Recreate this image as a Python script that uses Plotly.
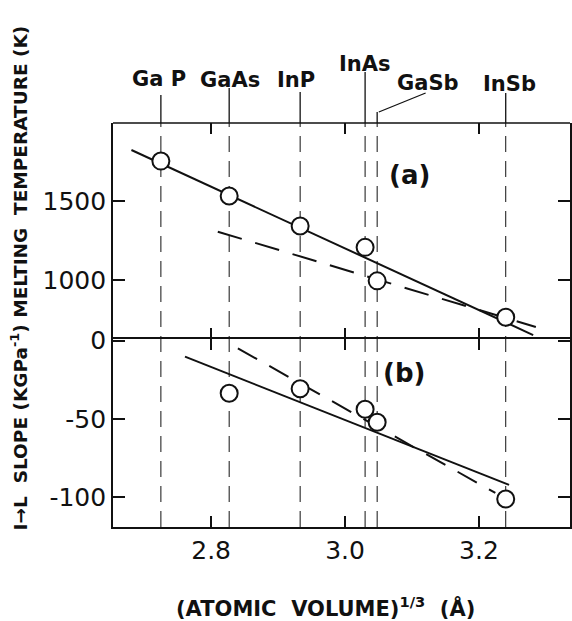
import plotly.graph_objects as go

# ---------------- data ----------------
compounds = ["GaP", "GaAs", "InP", "InAs", "GaSb", "InSb"]
compound_labels = ["Ga P", "GaAs", "InP", "InAs", "GaSb", "InSb"]
atomic_volume_cuberoot = [2.725, 2.827, 2.933, 3.030, 3.048, 3.240]

melting_temp = [1753, 1532, 1342, 1207, 995, 765]

slope_x = [2.827, 2.933, 3.030, 3.048, 3.240]
slope_vals = [-33.6, -30.7, -43.8, -52.1, -101.0]

fit_a_solid_x = [2.681, 3.281]
fit_a_solid_y = [1823, 652]
fit_a_dash_x = [2.810, 3.285]
fit_a_dash_y = [1306, 703]
fit_b_solid_x = [2.761, 3.245]
fit_b_solid_y = [-10.3, -92.0]
fit_b_dash_x = [2.840, 3.2245]
fit_b_dash_y = [-5.0, -97.1]

x_ticks = [2.8, 3.0, 3.2]
x_ticklabels = ["2.8", "3.0", "3.2"]
ya_ticks = [1000, 1500]
ya_ticklabels = ["1000", "1500"]
yb_ticks = [0, -50, -100]
yb_ticklabels = ["0", "-50", "-100"]

# ---------------- layout helpers ----------------
W, H = 572, 621
L, T, B_PX = 113, 123, 527
MID = 339
PH = B_PX - T


def py(ypx):
    return (B_PX - ypx) / PH


def px(xpx):
    return (xpx - L) / (W - L)


FONT = "DejaVu Sans"
BLACK = "#111111"

fig = go.Figure()

# fit lines
fig.add_trace(go.Scatter(x=fit_a_solid_x, y=fit_a_solid_y, mode="lines",
                         line=dict(color=BLACK, width=2), xaxis="x", yaxis="y",
                         showlegend=False, hoverinfo="skip"))
fig.add_trace(go.Scatter(x=fit_a_dash_x, y=fit_a_dash_y, mode="lines",
                         line=dict(color=BLACK, width=2, dash="25px,14px"),
                         xaxis="x", yaxis="y", showlegend=False, hoverinfo="skip"))
fig.add_trace(go.Scatter(x=fit_b_solid_x, y=fit_b_solid_y, mode="lines",
                         line=dict(color=BLACK, width=2), xaxis="x2", yaxis="y2",
                         showlegend=False, hoverinfo="skip"))
fig.add_trace(go.Scatter(x=fit_b_dash_x, y=fit_b_dash_y, mode="lines",
                         line=dict(color=BLACK, width=2, dash="22px,14px"),
                         xaxis="x2", yaxis="y2", showlegend=False, hoverinfo="skip"))

# data points
marker = dict(symbol="circle", size=17, color="white",
              line=dict(color=BLACK, width=2))
fig.add_trace(go.Scatter(x=atomic_volume_cuberoot, y=melting_temp, mode="markers",
                         marker=marker, xaxis="x", yaxis="y", showlegend=False))
fig.add_trace(go.Scatter(x=slope_x, y=slope_vals, mode="markers",
                         marker=marker, xaxis="x2", yaxis="y2", showlegend=False))

shapes = []
# top border of the frame
shapes.append(dict(type="line", xref="paper", yref="paper", x0=0, x1=1, y0=1, y1=1,
                   line=dict(color=BLACK, width=1.6)))
# vertical dashed compound lines through the frame
for xv in atomic_volume_cuberoot:
    shapes.append(dict(type="line", xref="x", yref="paper", x0=xv, x1=xv,
                       y0=0, y1=1, layer="below",
                       line=dict(color=BLACK, width=1, dash="16px,9px")))

# leader lines above the frame (top pixel of each leader)
leader_top = [95, 88, 92, 72, None, 93]
for xv, top in zip(atomic_volume_cuberoot, leader_top):
    if top is None:
        continue
    shapes.append(dict(type="line", xref="x", yref="paper", x0=xv, x1=xv,
                       y0=1, y1=py(top), line=dict(color=BLACK, width=1.3)))
# GaSb bent leader
gasb_x = atomic_volume_cuberoot[4]
shapes.append(dict(type="line", xref="x", yref="paper", x0=gasb_x, x1=gasb_x,
                   y0=1, y1=py(112), line=dict(color=BLACK, width=1.3)))
shapes.append(dict(type="line", xref="paper", yref="paper", x0=px(380), x1=px(427),
                   y0=py(112), y1=py(93), line=dict(color=BLACK, width=1.3)))

annotations = []
label_y = [79, 80, 80, 64, 83, 84]
label_shift = [-2, 1, -4, 0, 51, 4]
for lab, xv, ly, sh in zip(compound_labels, atomic_volume_cuberoot, label_y, label_shift):
    annotations.append(dict(text=lab, x=xv, xref="x", y=py(ly), yref="paper",
                            xshift=sh, showarrow=False, xanchor="center", yanchor="middle",
                            font=dict(family=FONT, size=21, color=BLACK, weight="bold")))

annotations.append(dict(text="(a)", x=px(433), y=py(158), xref="paper", yref="paper",
                        showarrow=False, font=dict(family=FONT, size=26, color=BLACK, weight="bold")))
annotations.append(dict(text="(b)", x=px(428), y=py(373), xref="paper", yref="paper",
                        showarrow=False, font=dict(family=FONT, size=26, color=BLACK, weight="bold")))

annotations.append(dict(text="I\u2192L  SLOPE (KGPa<sup>-1</sup>) MELTING  TEMPERATURE (K)",
                        x=px(19), y=py(278), xref="paper", yref="paper", textangle=-90,
                        showarrow=False, xanchor="center", yanchor="middle",
                        font=dict(family=FONT, size=18.5, color=BLACK, weight="bold")))
annotations.append(dict(text="(ATOMIC  VOLUME)<sup>1/3</sup>  (\u00c5)",
                        x=px(326), y=py(607), xref="paper", yref="paper",
                        showarrow=False, xanchor="center", yanchor="middle",
                        font=dict(family=FONT, size=21, color=BLACK, weight="bold")))

xrange = [2.6535, 3.336]
axis_common = dict(showline=True, linecolor=BLACK, linewidth=1.6, mirror="ticks",
                   ticks="inside", tickcolor=BLACK, tickwidth=1.5, showgrid=False,
                   zeroline=False, tickfont=dict(family=FONT, size=25, color=BLACK))

fig.update_layout(
    width=W, height=H,
    margin=dict(l=L, r=0, t=T, b=H - B_PX, pad=0),
    paper_bgcolor="white", plot_bgcolor="white",
    showlegend=False,
    xaxis=dict(axis_common, range=xrange, anchor="y", tickvals=x_ticks,
               ticktext=x_ticklabels, showticklabels=False, ticklen=11,
               showline=False),
    xaxis2=dict(axis_common, range=xrange, anchor="y2", tickvals=x_ticks,
                ticktext=x_ticklabels, ticklen=11, matches="x"),
    yaxis=dict(axis_common, range=[627, 1994], domain=[py(MID), 1], anchor="x",
               tickvals=ya_ticks, ticktext=ya_ticklabels, ticklen=12),
    yaxis2=dict(axis_common, range=[-118.8, 0.96], domain=[0, py(MID)], anchor="x2",
                tickvals=yb_ticks, ticktext=yb_ticklabels, ticklen=12),
    shapes=shapes,
    annotations=annotations,
)

fig.write_html("out.html")
